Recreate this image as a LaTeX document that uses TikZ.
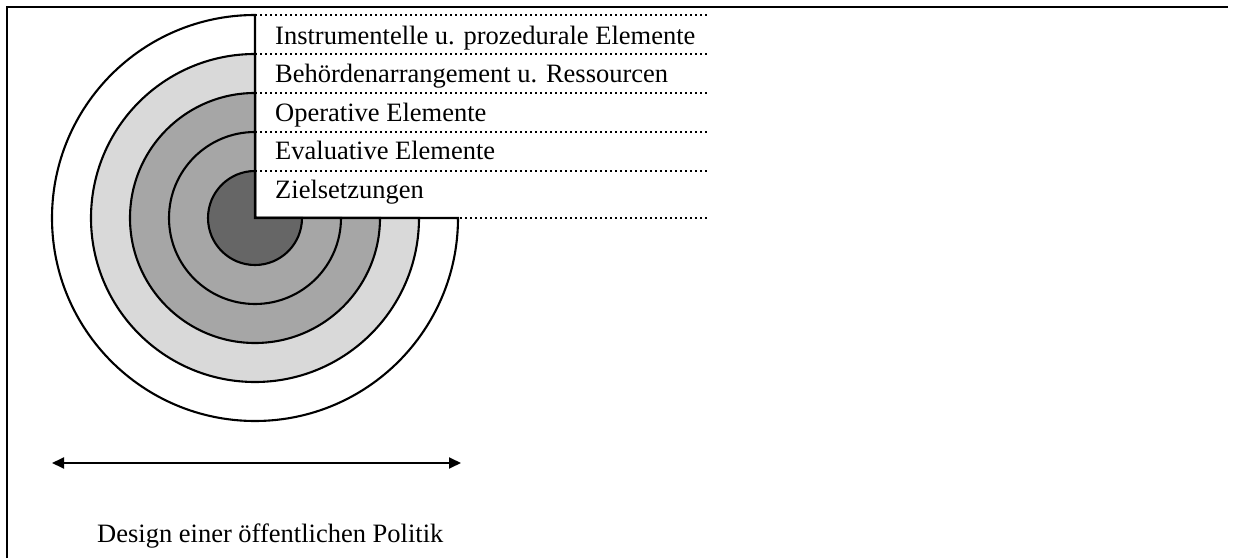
\documentclass[tikz,border=0pt]{standalone}
\usepackage{fontspec}
\setmainfont{Liberation Serif}
\usetikzlibrary{arrows.meta}
\definecolor{ringdark}{HTML}{666666}
\definecolor{ringmid}{HTML}{A6A6A6}
\definecolor{ringlight}{HTML}{D9D9D9}
\tikzset{
  ring/.style={draw=black, line width=2.1pt},
  sep/.style={line width=1.8pt, dash pattern=on 2pt off 3pt},
  frameline/.style={line width=2.8pt},
  lbl/.style={anchor=base west, inner sep=0pt, font=\fontsize{26.5}{30}\selectfont},
}
\begin{document}
\begin{tikzpicture}[x=1pt,y=1pt]
\useasboundingbox (0,0) rectangle (1235,558);
% frame
\coordinate (fTL) at (7,551);
\coordinate (fTR) at (1228,551);
\coordinate (fBL) at (7,0);
\draw[frameline] (fBL) -- (fTL) -- (fTR);
% centre
\coordinate (C) at (255,340);
% three-quarter rings
\foreach \r/\c in {203/white,164/ringlight,125/ringmid,86/ringmid,47/ringdark}{
  \filldraw[ring, fill=\c] (C) -- ++(0,\r) arc[start angle=90, end angle=360, radius=\r] -- cycle;
}
% dotted separators
\coordinate (sa) at (255,543);
\coordinate (sb) at (255,504);
\coordinate (sc) at (255,465);
\coordinate (sd) at (255,426);
\coordinate (se) at (255,387);
\coordinate (sf) at (255,340);
\foreach \n in {a,b,c,d,e,f}{
  \draw[sep] (s\n) -- ++(453,0);
}
\draw[ring] (sa) -- (sf);
% labels
\node[lbl] (l1) at (275,513) {Instrumentelle u. prozedurale Elemente};
\node[lbl] (l2) at (275,475) {Behördenarrangement u. Ressourcen};
\node[lbl] (l3) at (275,436) {Operative Elemente};
\node[lbl] (l4) at (275,398) {Evaluative Elemente};
\node[lbl] (l5) at (275,359) {Zielsetzungen};
% arrow
\coordinate (aL) at (52,95);
\coordinate (aR) at (461,95);
\draw[line width=1.8pt, {Triangle[length=12pt,width=11pt]}-{Triangle[length=12pt,width=11pt]}] (aL) -- (aR);
\node[lbl] (design) at (97,16) {Design einer öffentlichen Politik};
\end{tikzpicture}
\end{document}
